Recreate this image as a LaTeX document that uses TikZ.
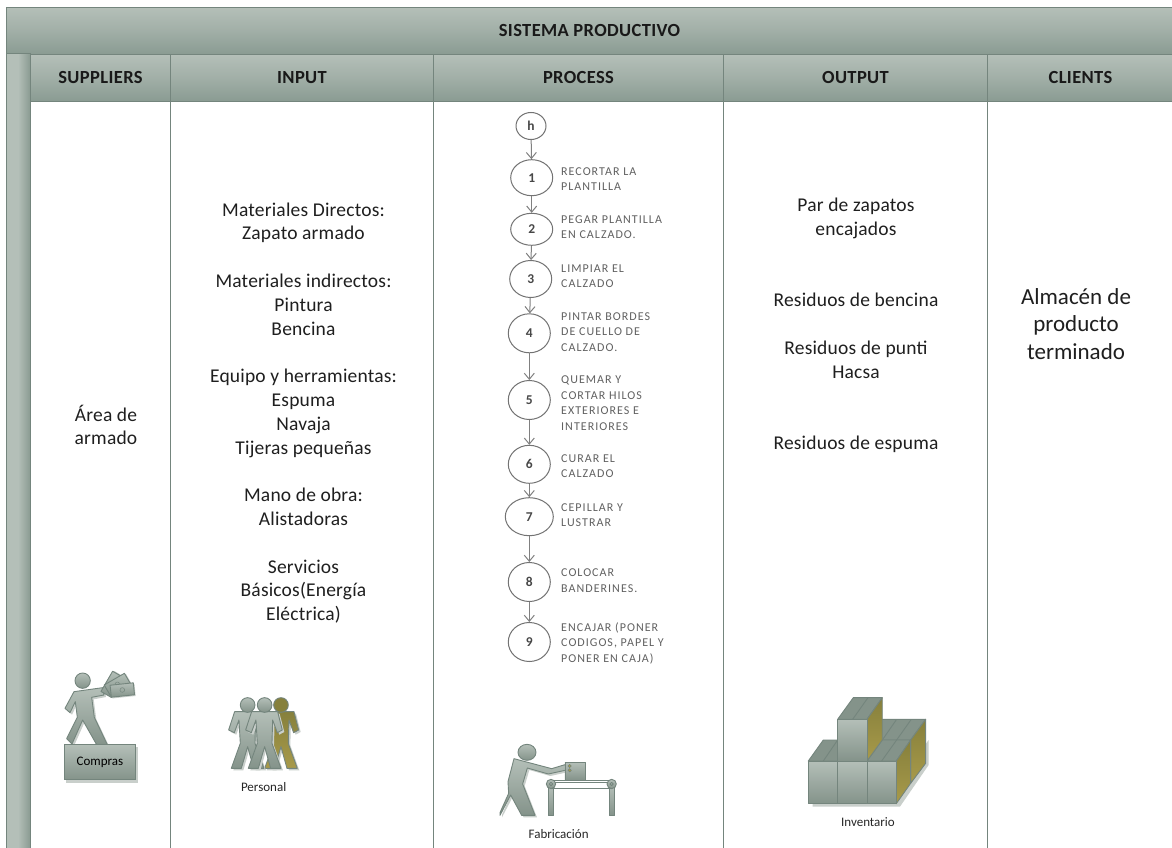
\documentclass[tikz,border=0pt]{standalone}
\usepackage{fontspec}
\setmainfont{Carlito}
\newfontfamily\lblfont[LetterSpace=8.5]{Carlito}
\newfontfamily\hdfont[LetterSpace=2]{Carlito}
\newfontfamily\txtfont[LetterSpace=1]{Carlito}
\usetikzlibrary{shapes.geometric,arrows.meta}
\definecolor{hdtop}{HTML}{B4BFB8}
\definecolor{hdbot}{HTML}{8A9B92}
\definecolor{edgec}{HTML}{74857D}
\definecolor{figtop}{HTML}{B4BFB8}
\definecolor{figbot}{HTML}{84938A}
\definecolor{goldA}{HTML}{A89A4A}
\definecolor{goldB}{HTML}{86803C}
\definecolor{shadowc}{HTML}{C9CFCB}
\tikzset{
 x=1pt,y=-1pt,
 band/.style={draw=edgec,line width=1pt,top color=hdtop,bottom color=hdbot,middle color=hdtop!55!hdbot,inner sep=0,text height=12pt,text depth=0pt,font=\hdfont\bfseries\fontsize{18.5}{22}\selectfont,text=black!90},
 sideband/.style={draw=edgec,line width=1pt,left color=hdtop,right color=hdbot,middle color=hdtop},
 colline/.style={draw=edgec,line width=1pt},
 body/.style={align=center,font=\txtfont\fontsize{19.5}{23.8}\selectfont,text=black!88,inner sep=0},
 bigbody/.style={align=center,font=\fontsize{23}{27.5}\selectfont,text=black!88,inner sep=0},
 stepnode/.style={draw=black!55,line width=1pt,ellipse,inner sep=0,fill=white,font=\bfseries\fontsize{13.5}{15}\selectfont,text=black!72},
 steplabel/.style={align=left,anchor=west,inner sep=0,font=\lblfont\fontsize{12}{15.5}\selectfont,text=black!62},
 flow/.style={draw=black!50,line width=1pt,-{Straight Barb[length=6pt,width=10pt]}},
 figfill/.style={draw=edgec,line width=.9pt,top color=figtop,bottom color=figbot,line join=round},
 goldfill/.style={draw=edgec,line width=.9pt,top color=goldB,bottom color=goldA,line join=round},
 topfill/.style={draw=edgec,line width=.9pt,fill=figbot,line join=round},
 figshadow/.style={fill=shadowc,draw=none},
 figcap/.style={inner sep=0,font=\fontsize{13}{15}\selectfont,text=black!85},
}
\begin{document}
\begin{tikzpicture}
\useasboundingbox (0,0) rectangle (1172,848);
\fill[white] (0,0) rectangle (1172,848);
% frame
\node[band,minimum width=1166pt,minimum height=47pt,anchor=north west] (title) at (6,7) {SISTEMA PRODUCTIVO};
\path[sideband] (6,54) rectangle (30,849);
\node[band,minimum width=140pt,minimum height=47pt,anchor=north west] (hS) at (30,54) {SUPPLIERS};
\node[band,minimum width=263pt,minimum height=47pt,anchor=north west] (hI) at (170,54) {INPUT};
\node[band,minimum width=290pt,minimum height=47pt,anchor=north west] (hP) at (433,54) {PROCESS};
\node[band,minimum width=264pt,minimum height=47pt,anchor=north west] (hO) at (723,54) {OUTPUT};
\node[band,minimum width=186pt,minimum height=47pt,anchor=north west] (hC) at (987,54) {CLIENTS};
\draw[colline] (170,101) -- (170,849) (433,101) -- (433,849) (723,101) -- (723,849) (987,101) -- (987,849);
% texts
\node[body] (tS) at (106,425) {Área de\\armado};
\node[body] (tI) at (303.5,413) {Materiales Directos:\\Zapato armado\\[23.8pt]Materiales indirectos:\\Pintura\\Bencina\\[23.8pt]Equipo y herramientas:\\Espuma\\Navaja\\Tijeras pequeñas\\[23.8pt]Mano de obra:\\Alistadoras\\[23.8pt]Servicios\\Básicos(Energía\\Eléctrica)};
\node[body] (t1) at (856,218) {Par de zapatos\\encajados};
\node[body] (t2) at (856,300) {Residuos de bencina};
\node[body] (t3) at (856,360) {Residuos de punti\\Hacsa};
\node[body] (t4) at (856,444) {Residuos de espuma};
\node[bigbody] (tC) at (1076,324) {Almacén de\\producto\\terminado};
% flow
\node[stepnode,minimum width=30pt,minimum height=27pt] (h) at (531,126) {h};
\node[stepnode,minimum width=42pt,minimum height=36pt] (n1) at (531.7,177.7) {1};
\node[stepnode,minimum width=42pt,minimum height=32pt] (n2) at (531.7,229.3) {2};
\node[stepnode,minimum width=42pt,minimum height=37pt] (n3) at (530.7,279) {3};
\node[stepnode,minimum width=42pt,minimum height=39pt] (n4) at (529.3,333.3) {4};
\node[stepnode,minimum width=42pt,minimum height=39pt] (n5) at (529.3,400) {5};
\node[stepnode,minimum width=42pt,minimum height=38pt] (n6) at (529.3,464.3) {6};
\node[stepnode,minimum width=48pt,minimum height=38pt] (n7) at (529.3,516.7) {7};
\node[stepnode,minimum width=42pt,minimum height=39pt] (n8) at (529.3,582) {8};
\node[stepnode,minimum width=42pt,minimum height=39pt] (n9) at (529.3,642) {9};
\foreach \a/\b in {h/n1,n1/n2,n2/n3,n3/n4,n4/n5,n5/n6,n6/n7,n7/n8,n8/n9}{\draw[flow] (\a) -- (\b);}
\node[steplabel] (l1) at (561,179) {RECORTAR LA\\PLANTILLA};
\node[steplabel] (l2) at (561,227) {PEGAR PLANTILLA\\EN CALZADO.};
\node[steplabel] (l3) at (561,276) {LIMPIAR EL\\CALZADO};
\node[steplabel] (l4) at (561,332) {PINTAR BORDES\\DE CUELLO DE\\CALZADO.};
\node[steplabel] (l5) at (561,403) {QUEMAR Y\\CORTAR HILOS\\EXTERIORES E\\INTERIORES};
\node[steplabel] (l6) at (561,466) {CURAR EL\\CALZADO};
\node[steplabel] (l7) at (561,515) {CEPILLAR Y\\LUSTRAR};
\node[steplabel] (l8) at (561,580.5) {COLOCAR\\BANDERINES.};
\node[steplabel] (l9) at (561,643) {ENCAJAR (PONER\\CODIGOS, PAPEL Y\\PONER EN CAJA)};
% Compras figure
\begin{scope}[yshift=-640pt,x=.3333pt,y=-.3333pt]
 \def\cbody{(222,155) -- (308,143) -- (312,165) -- (275,172) -- (283,232) -- (322,314) -- (290,314) -- (248,240) -- (216,312) -- (200,296) -- (232,232) -- (226,185) -- (210,218) -- (195,205) -- cycle}
 \fill[figshadow,xshift=2pt,yshift=-2pt] \cbody;
 \path[figfill] \cbody;
 \path[figfill] (248,122) circle[radius=23];
 \foreach \cx/\cy/\r in {336/133/60,352/133/30,367/150/6}{
  \begin{scope}[shift={(\cx,\cy)},rotate=\r]
   \fill[shadowc] (-32,-14) rectangle (38,22);
   \path[figfill] (-35,-18) rectangle (35,18);
   \draw[edgec,line width=.5pt] (0,0) circle[radius=7];
  \end{scope}}
 \fill[figshadow] (198,320) rectangle (414,428);
 \node[draw=edgec,line width=1pt,top color=figtop,bottom color=figbot,minimum width=71pt,minimum height=35pt,figcap,text=black] (compras) at (300,367) {Compras};
\end{scope}
% Personal figure
\newcommand{\manshape}{(-39,20) -- (39,20) -- (53,75) -- (38,83) -- (24,45) -- (22,115) -- (49,190) -- (18,190) -- (0,125) -- (-19,190) -- (-49,190) -- (-22,115) -- (-26,45) -- (-40,83) -- (-57,75) -- cycle}
\begin{scope}[yshift=-640pt,x=.3333pt,y=-.3333pt]
 \foreach \hx/\gold in {843/1,743/0,794/0}{
  \begin{scope}[shift={(\hx,195)}]
   \ifnum\gold=1
    \fill[figshadow,xshift=2pt,yshift=-2pt] \manshape;
    \path[goldfill,top color=goldB,bottom color=goldA] \manshape;
    \path[goldfill,top color=goldB,bottom color=goldB] (0,0) circle[radius=22];
   \else
    \fill[figshadow,xshift=2pt,yshift=-2pt] \manshape;
    \path[figfill] \manshape;
    \path[figfill] (0,0) circle[radius=22];
   \fi
  \end{scope}}
 \node[figcap] (personal) at (791,440) {Personal};
\end{scope}
% Fabricacion and Inventario
\begin{scope}[xshift=440pt,yshift=-680pt,x=.3333pt,y=-.3333pt]
 \def\fbody{(222,236) -- (335,266) -- (375,254) -- (380,270) -- (325,282) -- (262,264) -- (248,312) -- (285,406) -- (245,406) -- (212,345) -- (180,406) -- (180,398) -- (206,340) -- (204,305) -- cycle}
 \fill[figshadow,xshift=2pt,yshift=-2pt] \fbody;
 \path[figfill] \fbody;
 \path[figfill] (261,217) ellipse[x radius=27,y radius=24];
 \path[figfill] (325,318) rectangle (341,406);
 \path[figfill] (508,318) rectangle (524,406);
 \draw[edgec,line width=.8pt] (333,300) -- (515,300) (333,306) -- (515,306) (333,325) -- (515,325);
 \path[figfill] (333,312) circle[radius=14];
 \path[figfill] (515,312) circle[radius=14];
 \path[figfill] (333,312) circle[radius=5];
 \path[figfill] (515,312) circle[radius=5];
 \path[figfill] (375,247) rectangle (437,300);
 \path[draw=edgec,fill=goldA,line width=.5pt] (389,258) circle[radius=5] (389,271) circle[radius=5];
 \node[figcap] (fab) at (356,461) {Fabricación};
 % inventory
 \fill[figshadow] (1118,300) -- (1380,300) -- (1466,180) -- (1466,255) -- (1380,380) -- (1118,380) -- cycle;
 \path[topfill] (1327,118) -- (1457,118) -- (1412,180) -- (1327,180) -- cycle;
 \draw[edgec,line width=.9pt] (1370,118) -- (1327,180) (1414,118) -- (1370,180);
 \path[goldfill] (1412,180) -- (1457,118) -- (1457,250) -- (1412,310) -- cycle;
 \path[topfill] (1105,243) -- (1150,180) -- (1193,180) -- (1193,243) -- cycle;
 \draw[edgec,line width=.9pt] (1193,180) -- (1150,243);
 \path[topfill] (1281,243) -- (1327,180) -- (1412,180) -- (1369,243) -- cycle;
 \draw[edgec,line width=.9pt] (1370,180) -- (1325,243);
 \path[goldfill] (1369,243) -- (1412,180) -- (1412,310) -- (1369,371) -- cycle;
 \path[figfill] (1105,243) rectangle (1193,371);
 \path[figfill] (1193,243) rectangle (1281,371);
 \path[figfill] (1281,243) rectangle (1369,371);
 \path[topfill] (1193,118) -- (1240,53) -- (1327,53) -- (1281,118) -- cycle;
 \draw[edgec,line width=.9pt] (1284,53) -- (1238,118);
 \path[goldfill] (1281,118) -- (1327,53) -- (1327,180) -- (1281,243) -- cycle;
 \path[figfill] (1193,118) rectangle (1281,243);
 \node[figcap] (inv) at (1284,426) {Inventario};
\end{scope}
\end{tikzpicture}
\end{document}
